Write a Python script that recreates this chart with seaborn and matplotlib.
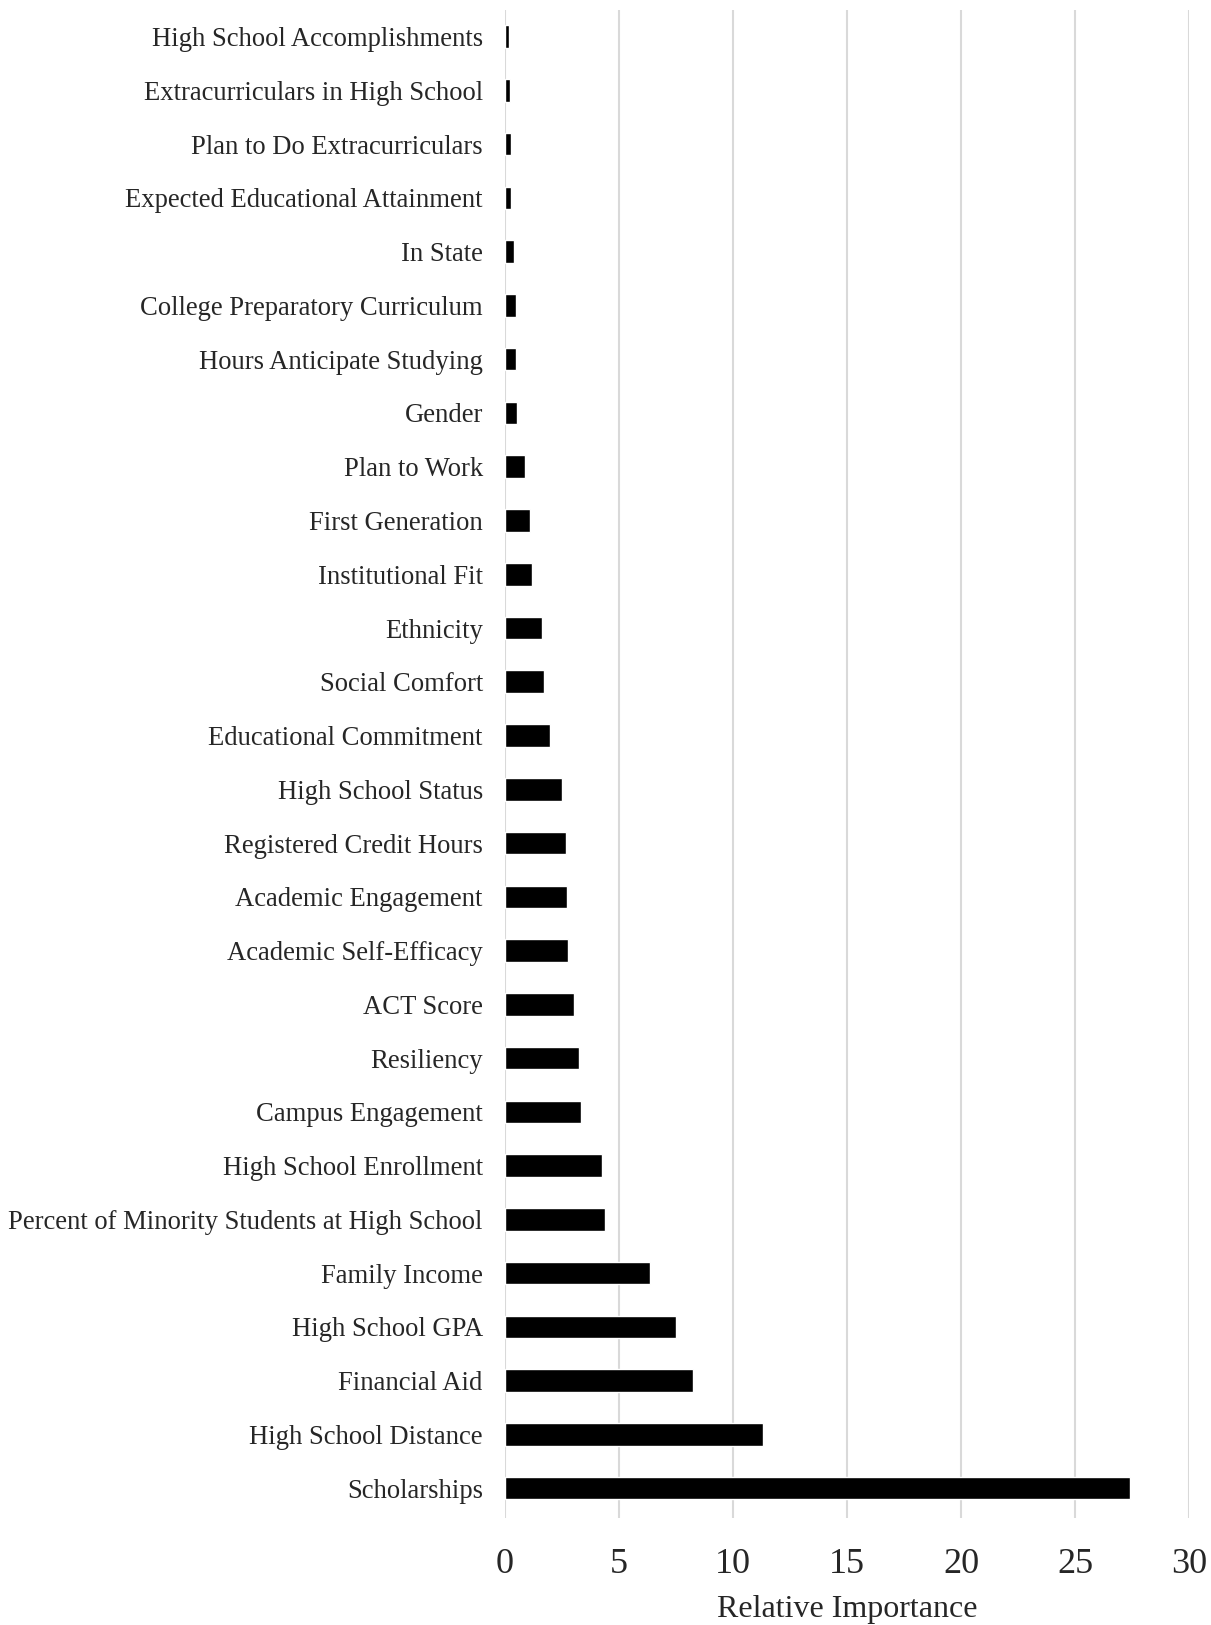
import pandas as pd
import matplotlib.pyplot as plt
import seaborn as sns

# Relative importance of predictors
features = [
    "High School Accomplishments",
    "Extracurriculars in High School",
    "Plan to Do Extracurriculars",
    "Expected Educational Attainment",
    "In State",
    "College Preparatory Curriculum",
    "Hours Anticipate Studying",
    "Gender",
    "Plan to Work",
    "First Generation",
    "Institutional Fit",
    "Ethnicity",
    "Social Comfort",
    "Educational Commitment",
    "High School Status",
    "Registered Credit Hours",
    "Academic Engagement",
    "Academic Self-Efficacy",
    "ACT Score",
    "Resiliency",
    "Campus Engagement",
    "High School Enrollment",
    "Percent of Minority Students at High School",
    "Family Income",
    "High School GPA",
    "Financial Aid",
    "High School Distance",
    "Scholarships",
]
importance = [
    0.16, 0.22, 0.25, 0.25, 0.38, 0.50, 0.50, 0.53, 0.86, 1.10,
    1.17, 1.64, 1.70, 1.96, 2.49, 2.67, 2.70, 2.76, 3.04, 3.23,
    3.32, 4.27, 4.37, 6.38, 7.50, 8.25, 11.32, 27.40,
]
x_ticks = [0, 5, 10, 15, 20, 25, 30]

df = pd.DataFrame({"feature": features, "importance": importance})

sns.set_style("white")
plt.rcParams["font.family"] = ["Liberation Serif", "DejaVu Serif"]

fig = plt.figure(figsize=(12.11, 16.25), dpi=100)
ax = fig.add_axes([0.417, 0.066, 0.565, 0.928])

sns.barplot(data=df, x="importance", y="feature", orient="h",
            color="black", width=0.42, saturation=1, ax=ax, zorder=3)

ax.set_xlim(0, 30)
ax.set_ylim(len(features) - 0.45, -0.5)
ax.set_xticks(x_ticks)
ax.xaxis.grid(True, color="#d9d9d9", linewidth=1.5, zorder=0)
ax.yaxis.grid(False)
for s in ax.spines.values():
    s.set_visible(False)
ax.tick_params(axis="y", length=0, labelsize=19.2, pad=16)
ax.tick_params(axis="x", length=0, labelsize=26, pad=22)
ax.set_ylabel("")
ax.set_xlabel("Relative Importance", fontsize=23, labelpad=10)

fig.savefig("out.png", dpi=100)
